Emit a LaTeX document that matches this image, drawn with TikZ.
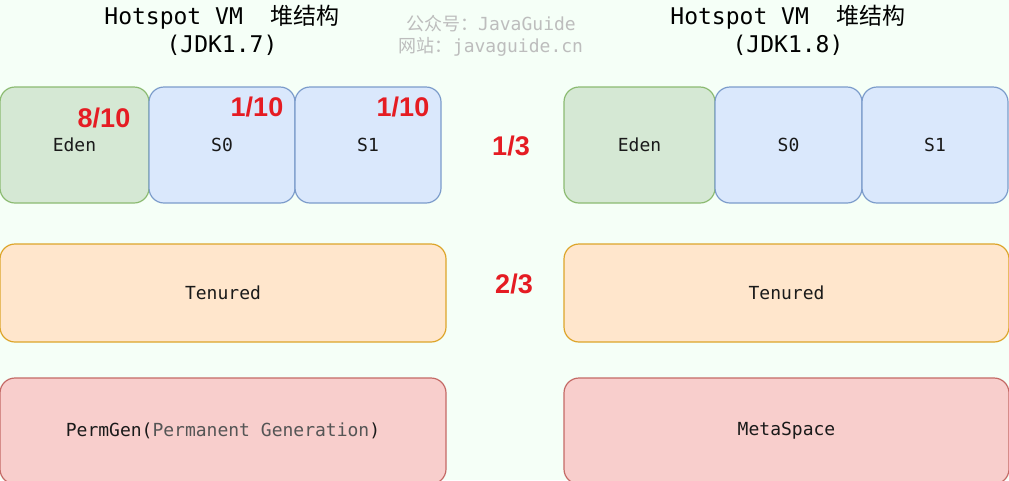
\documentclass[tikz,border=0pt]{standalone}
\usepackage{fontspec}
\setmonofont{DejaVu Sans Mono}
\newfontfamily\cjk{Noto Sans CJK SC}
\newfontfamily\fracfont{Liberation Sans}
\usetikzlibrary{positioning}

\definecolor{bgmint}{HTML}{F5FFF7}
\definecolor{edenfill}{HTML}{D5E8D4}
\definecolor{edenline}{HTML}{8CBB72}
\definecolor{survfill}{HTML}{DAE8FC}
\definecolor{survline}{HTML}{7C9CCB}
\definecolor{oldfill}{HTML}{FFE6CC}
\definecolor{oldline}{HTML}{DDA52A}
\definecolor{permfill}{HTML}{F8CECC}
\definecolor{permline}{HTML}{C46A66}
\definecolor{labelink}{HTML}{1A1A1A}
\definecolor{softink}{HTML}{555555}
\definecolor{markgray}{HTML}{BDBDBD}
\definecolor{fracred}{HTML}{E51C23}

\begin{document}
\begin{tikzpicture}[x=1pt, y=-1pt]
\tikzstyle{region}=[draw, rectangle, rounded corners=15pt, line width=1.2pt, inner sep=0pt, outer sep=0pt, text centered, text=labelink, font=\fontsize{18}{20}\selectfont\ttfamily]
\tikzstyle{eden}=[region, fill=edenfill, draw=edenline]
\tikzstyle{surv}=[region, fill=survfill, draw=survline]
\tikzstyle{old}=[region, fill=oldfill, draw=oldline]
\tikzstyle{perm}=[region, fill=permfill, draw=permline]
\tikzstyle{frac}=[text=fracred, inner sep=0pt, font=\fontsize{27}{30}\selectfont\fracfont\bfseries]
\tikzstyle{title}=[align=center, inner sep=0pt, anchor=north, font=\fontsize{23}{28}\selectfont\ttfamily]
\tikzstyle{watermark}=[align=center, inner sep=0pt, anchor=north, text=markgray, font=\fontsize{18}{22}\selectfont\ttfamily]

\def \young {145}
\def \tenured {293}
\def \permy {431}

\fill[bgmint] (0,0) rectangle (1009,480);
\useasboundingbox (0,0) rectangle (1009,480);
\clip (0,0) rectangle (1009,480);

% JDK 1.7
\node[title]									(title7) at		(222,		5)		{Hotspot VM\ \ {\cjk 堆结构}\\(JDK1.7)};

\node[eden, minimum width=149pt, minimum height=116pt]		(eden7) at		(74.5,		\young)	{Eden};
\node[surv, minimum width=146pt, minimum height=116pt]		(szero7) at		(222,		\young)	{S0};
\node[surv, minimum width=146pt, minimum height=116pt]		(sone7) at		(368,		\young)	{S1};

\node[old, minimum width=446pt, minimum height=98pt]		(old7) at		(223,		\tenured)	{Tenured};
\node[perm, minimum width=446pt, minimum height=106pt]		(perm7) at		(223,		\permy)	{PermGen(\textcolor{softink}{Permanent Generation})};

\node[frac]									(edenfrac) at	(104,		118)	{8/10};
\node[frac]									(szerofrac) at	(257,		107)	{1/10};
\node[frac]									(sonefrac) at	(403,		107)	{1/10};

\node[frac]									(youngfrac) at	(511,		146)	{1/3};
\node[frac]									(oldfrac) at	(514,		284)	{2/3};

% watermark
\node[watermark]								(mark) at		(491,		15)		{{\cjk 公众号：}JavaGuide\\{\cjk 网站：}javaguide.cn};

% JDK 1.8
\node[title]									(title8) at		(788,		5)		{Hotspot VM\ \ {\cjk 堆结构}\\(JDK1.8)};

\node[eden, minimum width=151pt, minimum height=116pt]		(eden8) at		(639.5,		\young)	{Eden};
\node[surv, minimum width=147pt, minimum height=116pt]		(szero8) at		(788.5,		\young)	{S0};
\node[surv, minimum width=146pt, minimum height=116pt]		(sone8) at		(935,		\young)	{S1};

\node[old, minimum width=445pt, minimum height=98pt]		(old8) at		(786.5,		\tenured)	{Tenured};
\node[perm, minimum width=445pt, minimum height=106pt]		(meta8) at		(786.5,		\permy)	{MetaSpace};

\end{tikzpicture}
\end{document}
